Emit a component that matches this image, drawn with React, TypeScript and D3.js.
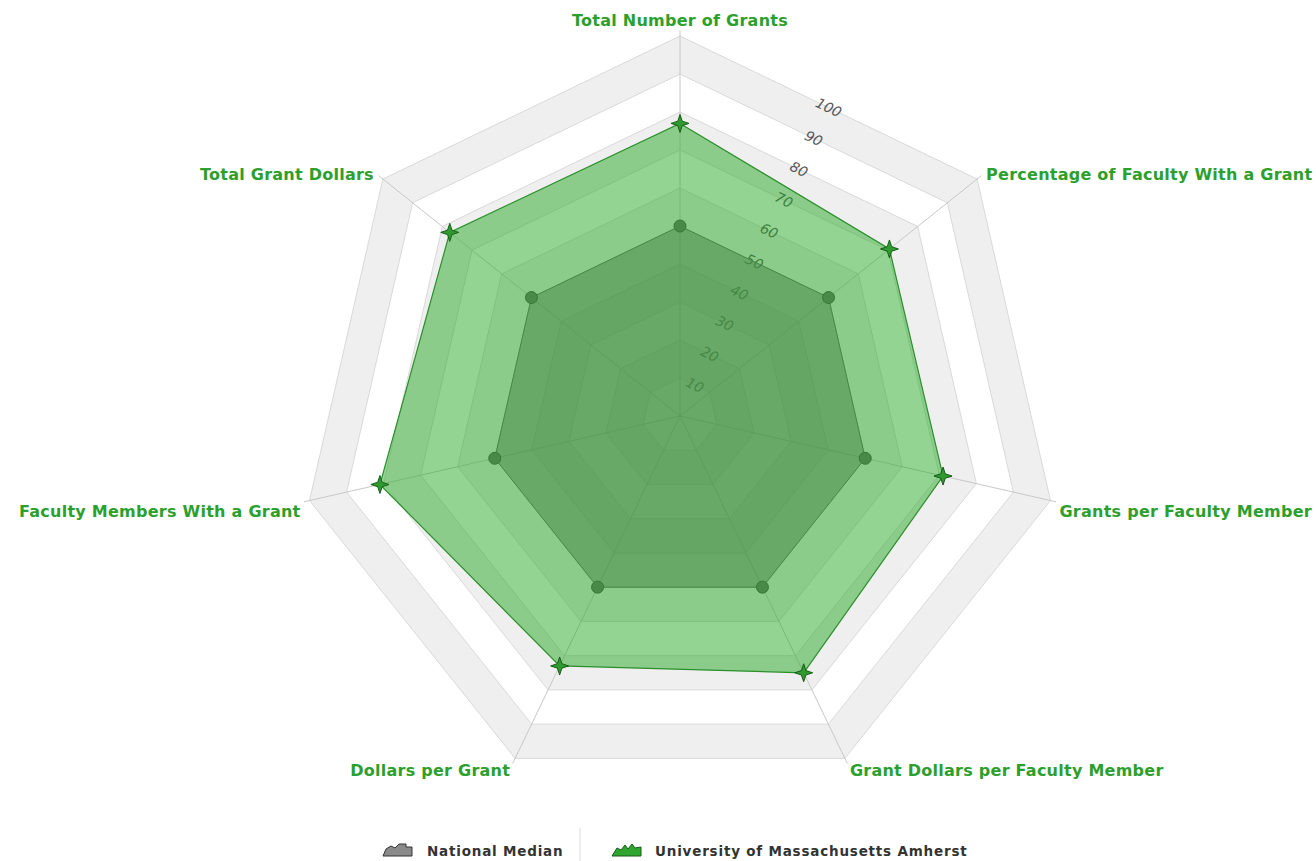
import React from 'react';
import * as d3 from 'd3';

const categories = [
  'Total Number of Grants',
  'Percentage of Faculty With a Grant',
  'Grants per Faculty Member',
  'Grant Dollars per Faculty Member',
  'Dollars per Grant',
  'Faculty Members With a Grant',
  'Total Grant Dollars',
];
const nationalMedian = [50, 50, 50, 50, 50, 50, 50];
const umass = [77, 70.5, 71, 75, 73, 81, 77.5];
const levels = [10, 20, 30, 40, 50, 60, 70, 80, 90, 100];
const seriesNames = ['National Median', 'University of Massachusetts Amherst'];

const W = 1316;
const H = 861;
const cx = 680;
const cy = 416;
const R = 380;

const rScale = d3.scaleLinear().domain([0, 100]).range([0, R]);
const step = (2 * Math.PI) / categories.length;

const radial = d3
  .lineRadial<number>()
  .angle((_, i) => i * step)
  .radius((d) => rScale(d))
  .curve(d3.curveLinearClosed);

const pt = (i: number, v: number): [number, number] => {
  const a = i * step;
  return [cx + rScale(v) * Math.sin(a), cy - rScale(v) * Math.cos(a)];
};

const starPath = (s: number) => {
  const pts: string[] = [];
  for (let k = 0; k < 8; k++) {
    const a = (k * Math.PI) / 4;
    const rr = k % 2 === 0 ? s : s * 0.35;
    pts.push(`${rr * Math.sin(a)},${-rr * Math.cos(a)}`);
  }
  return 'M' + pts.join('L') + 'Z';
};

const labelFont = "'DejaVu Sans', Verdana, sans-serif";

export default function App() {
  const ring = (v: number) => categories.map(() => v);
  const bandPath = (outer: number, inner: number) =>
    (radial(ring(outer)) || '') + (radial(ring(inner)) || '');

  return (
    <svg
      width={W}
      height={H}
      style={{ position: 'absolute', left: 0, top: 0, background: '#fff' }}
    >
      <g transform={`translate(${cx},${cy})`}>
        {/* alternating bands */}
        {levels
          .filter((_, i) => i % 2 === 1)
          .map((lv) => (
            <path
              key={'b' + lv}
              d={bandPath(lv, lv - 10)}
              fill="#efefef"
              fillRule="evenodd"
            />
          ))}
        {levels.map((lv) => (
          <path key={'g' + lv} d={radial(ring(lv)) || ''} fill="none" stroke="#d9d9d9" strokeWidth={1} />
        ))}
      </g>
      {/* axis lines */}
      {categories.map((c, i) => {
        const [x, y] = pt(i, 101.5);
        return <line key={c} x1={cx} y1={cy} x2={x} y2={y} stroke="#c8c8c8" strokeWidth={1} />;
      })}
      {/* tick labels */}
      {levels.map((lv) => {
        const a = step / 2;
        const d = rScale(lv) * Math.cos(a);
        const x = cx + d * Math.sin(a);
        const y = cy - d * Math.cos(a);
        return (
          <text
            key={'t' + lv}
            x={x}
            y={y}
            transform={`rotate(${(a * 180) / Math.PI},${x},${y})`}
            textAnchor="middle"
            dy="0.35em"
            fontFamily={labelFont}
            fontStyle="italic"
            fontSize={14}
            fill="#555"
          >
            {lv}
          </text>
        );
      })}
      {/* national median */}
      <g transform={`translate(${cx},${cy})`}>
        <path d={radial(nationalMedian) || ''} fill="rgba(110,110,110,0.6)" stroke="#666" strokeWidth={1} />
      </g>
      {nationalMedian.map((v, i) => {
        const [x, y] = pt(i, v);
        return <circle key={'n' + i} cx={x} cy={y} r={6} fill="#6a6a6a" stroke="#444" strokeWidth={1} />;
      })}
      {/* umass */}
      <g transform={`translate(${cx},${cy})`}>
        <path d={radial(umass) || ''} fill="rgba(40,170,40,0.5)" stroke="#2a8f2a" strokeWidth={1.2} />
      </g>
      {umass.map((v, i) => {
        const [x, y] = pt(i, v);
        return (
          <path
            key={'u' + i}
            d={starPath(9)}
            transform={`translate(${x},${y})`}
            fill="#2f9a2f"
            stroke="#175e17"
            strokeWidth={1}
          />
        );
      })}
      {/* category labels */}
      {categories.map((c, i) => {
        const a = i * step;
        const [vx, vy] = pt(i, 100);
        const s = Math.sin(a);
        const co = Math.cos(a);
        let anchor: 'start' | 'middle' | 'end' = 'middle';
        if (s > 0.01) anchor = 'start';
        if (s < -0.01) anchor = 'end';
        const dx = Math.abs(s) < 0.01 ? 0 : Math.abs(s) < 0.5 ? 5 * Math.sign(s) : 9 * Math.sign(s);
        const dy = co > 0.9 ? -16 : co > 0 ? -5 : co > -0.5 ? 11 : 12;
        return (
          <text
            key={'l' + c}
            x={vx + dx}
            y={vy + dy}
            dy="0.35em"
            textAnchor={anchor}
            fontFamily={labelFont}
            fontWeight="bold"
            fontSize={16}
            letterSpacing={0.25}
            fill="#2ca02c"
          >
            {c}
          </text>
        );
      })}
      {/* legend */}
      <line x1={580} y1={828} x2={580} y2={861} stroke="#ddd" strokeWidth={1} />
      <g transform="translate(383,843)">
        <path d="M0,13 L3,6 L8,3 L12,5 L16,1 L23,1 L23,4 L29,4 L29,13 Z" fill="#8a8a8a" stroke="#333" strokeWidth={1} />
        <text x={44} y={12.5} fontFamily={labelFont} fontWeight="bold" fontSize={13.5} fill="#333" letterSpacing={0.8}>
          {seriesNames[0]}
        </text>
      </g>
      <g transform="translate(612,843)">
        <path d="M0,13 L5,5 L9,7 L13,2 L16,6 L20,1 L23,5 L29,4 L29,13 Z" fill="#2fa52f" stroke="#175e17" strokeWidth={1} />
        <text x={43} y={12.5} fontFamily={labelFont} fontWeight="bold" fontSize={13.5} fill="#333" letterSpacing={0.8}>
          {seriesNames[1]}
        </text>
      </g>
    </svg>
  );
}
